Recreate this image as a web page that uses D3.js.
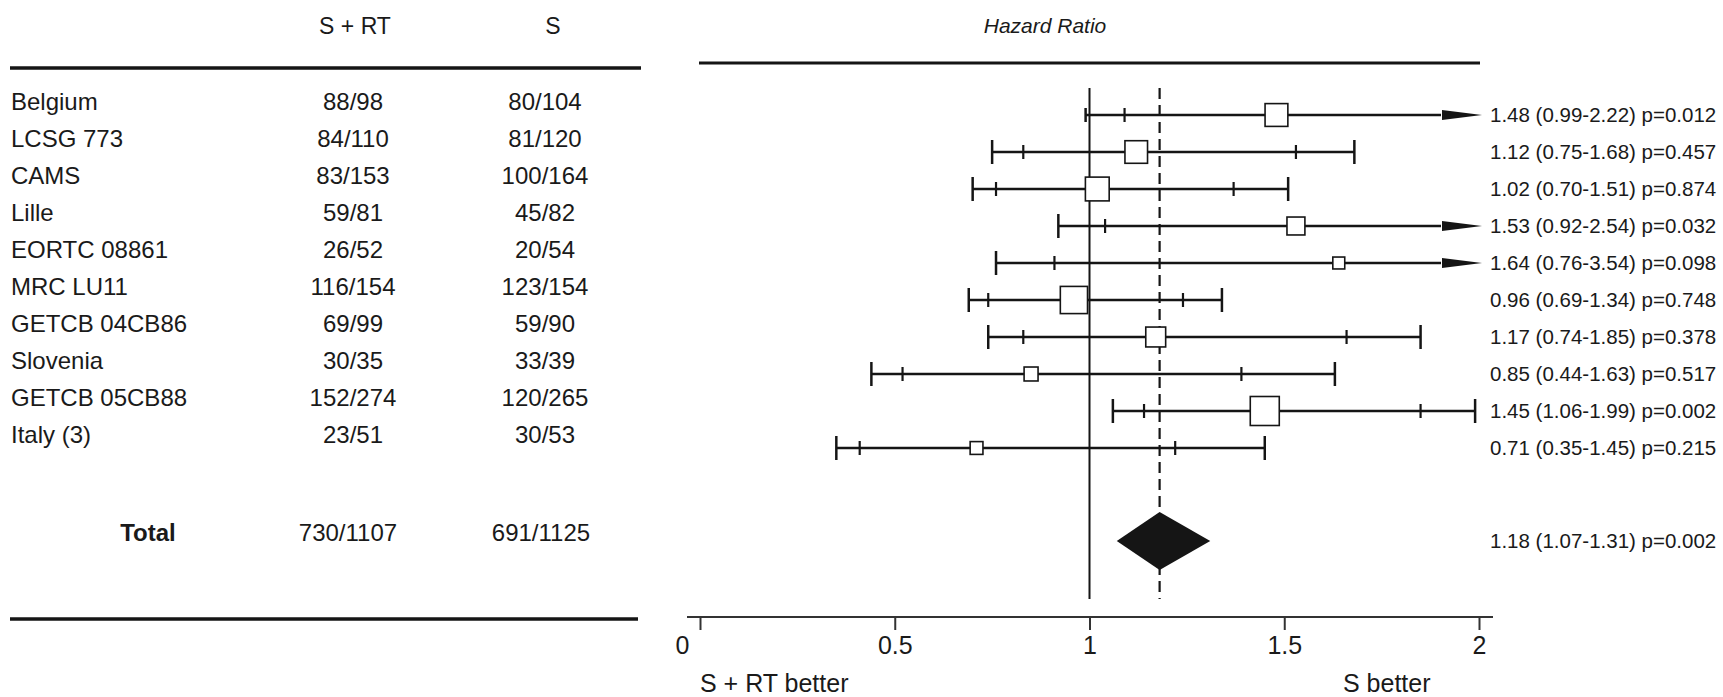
<!DOCTYPE html>
<html>
<head>
<meta charset="utf-8">
<script src="https://cdn.jsdelivr.net/npm/d3@7"></script>
<style>
  body { margin: 0; background: #fff; }
  text { font-family: "Liberation Sans", Arial, Helvetica, sans-serif; fill: #1a1a1a; }
</style>
</head>
<body>
<script>
// trial data
var trials = ["Belgium", "LCSG 773", "CAMS", "Lille", "EORTC 08861", "MRC LU11",
              "GETCB 04CB86", "Slovenia", "GETCB 05CB88", "Italy (3)"];
var srtDeaths = [88, 84, 83, 59, 26, 116, 69, 30, 152, 23];
var srtTotal  = [98, 110, 153, 81, 52, 154, 99, 35, 274, 51];
var sDeaths   = [80, 81, 100, 45, 20, 123, 59, 33, 120, 30];
var sTotal    = [104, 120, 164, 82, 54, 154, 90, 39, 265, 53];

// hazard ratios, outer (labelled) interval and inner tick marks
var hr    = [1.48, 1.12, 1.02, 1.53, 1.64, 0.96, 1.17, 0.85, 1.45, 0.71];
var lo    = [0.99, 0.75, 0.70, 0.92, 0.76, 0.69, 0.74, 0.44, 1.06, 0.35];
var hi    = [2.22, 1.68, 1.51, 2.54, 3.54, 1.34, 1.85, 1.63, 1.99, 1.45];
var loIn  = [1.09, 0.83, 0.76, 1.04, 0.91, 0.74, 0.83, 0.52, 1.14, 0.41];
var hiIn  = [null, 1.53, 1.37, null, null, 1.24, 1.66, 1.39, 1.85, 1.22];
var pvals = ["0.012", "0.457", "0.874", "0.032", "0.098", "0.748", "0.378", "0.517", "0.002", "0.215"];

var totalHR = 1.18, totalLo = 1.07, totalHi = 1.31, totalP = "0.002";
var axisTicks = [0, 0.5, 1, 1.5, 2];

var width = 1723, height = 697;

var svg = d3.select("body").append("svg")
    .attr("width", width)
    .attr("height", height);

// scales
var x = d3.scaleLinear().domain([0, 2]).range([700, 1479]);
var y = d3.scalePoint().domain(trials).range([115, 448]);
var boxSize = d3.scaleSqrt().domain([0, 272]).range([0, 29]);
var f2 = d3.format(".2f");

var ink = "#151515";

// ----- left table -----
svg.append("text").attr("x", 355).attr("y", 26).attr("dy", "0.35em")
    .attr("text-anchor", "middle").style("font-size", "23px").text("S + RT");
svg.append("text").attr("x", 553).attr("y", 26).attr("dy", "0.35em")
    .attr("text-anchor", "middle").style("font-size", "23px").text("S");

svg.append("line").attr("x1", 10).attr("x2", 641).attr("y1", 68).attr("y2", 68)
    .attr("stroke", ink).attr("stroke-width", 3.5);
svg.append("line").attr("x1", 10).attr("x2", 638).attr("y1", 619).attr("y2", 619)
    .attr("stroke", ink).attr("stroke-width", 3.5);

var rows = svg.append("g").selectAll("g")
    .data(trials)
  .enter().append("g")
    .attr("transform", function(d) { return "translate(0," + (y(d) - 13) + ")"; });

rows.append("text").attr("x", 11).attr("dy", "0.35em")
    .style("font-size", "24px").text(function(d) { return d; });
rows.append("text").attr("x", 353).attr("dy", "0.35em").attr("text-anchor", "middle")
    .style("font-size", "24px")
    .text(function(d, i) { return srtDeaths[i] + "/" + srtTotal[i]; });
rows.append("text").attr("x", 545).attr("dy", "0.35em").attr("text-anchor", "middle")
    .style("font-size", "24px")
    .text(function(d, i) { return sDeaths[i] + "/" + sTotal[i]; });

var totalY = 533;
svg.append("text").attr("x", 148).attr("y", totalY).attr("dy", "0.35em")
    .attr("text-anchor", "middle").style("font-size", "24px").style("font-weight", "bold")
    .text("Total");
svg.append("text").attr("x", 348).attr("y", totalY).attr("dy", "0.35em")
    .attr("text-anchor", "middle").style("font-size", "24px")
    .text(d3.sum(srtDeaths) + "/" + d3.sum(srtTotal));
svg.append("text").attr("x", 541).attr("y", totalY).attr("dy", "0.35em")
    .attr("text-anchor", "middle").style("font-size", "24px")
    .text(d3.sum(sDeaths) + "/" + d3.sum(sTotal));

// ----- forest plot -----
svg.append("text").attr("x", 1045).attr("y", 26).attr("dy", "0.35em")
    .attr("text-anchor", "middle").style("font-size", "21px").style("font-style", "italic")
    .text("Hazard Ratio");
svg.append("line").attr("x1", 699).attr("x2", 1480).attr("y1", 63).attr("y2", 63)
    .attr("stroke", ink).attr("stroke-width", 3);

var diamondY = 541;

// reference lines
svg.append("line").attr("x1", x(1)).attr("x2", x(1)).attr("y1", 88).attr("y2", 599)
    .attr("stroke", ink).attr("stroke-width", 2);
svg.append("line").attr("x1", x(totalHR)).attr("x2", x(totalHR)).attr("y1", 88).attr("y2", 599)
    .attr("stroke", ink).attr("stroke-width", 2.2).attr("stroke-dasharray", "11,6");

var xmax = x.domain()[1];
var arrowLen = 40, arrowHalf = 5;

var ci = svg.append("g").selectAll("g")
    .data(trials)
  .enter().append("g")
    .attr("transform", function(d) { return "translate(0," + y(d) + ")"; });

// interval line
ci.append("line")
    .attr("x1", function(d, i) { return x(lo[i]); })
    .attr("x2", function(d, i) { return hi[i] > xmax ? x(xmax) - arrowLen + 2 : x(hi[i]); })
    .attr("stroke", ink).attr("stroke-width", 2.5);

// outer end caps
ci.append("line")
    .attr("x1", function(d, i) { return x(lo[i]); })
    .attr("x2", function(d, i) { return x(lo[i]); })
    .attr("y1", function(d, i) { return i === 0 ? -7 : -12; })
    .attr("y2", function(d, i) { return i === 0 ? 7 : 12; })
    .attr("stroke", ink).attr("stroke-width", 2.5);
ci.filter(function(d, i) { return hi[i] <= xmax; }).append("line")
    .attr("x1", function(d) { return x(hi[trials.indexOf(d)]); })
    .attr("x2", function(d) { return x(hi[trials.indexOf(d)]); })
    .attr("y1", -12).attr("y2", 12)
    .attr("stroke", ink).attr("stroke-width", 2.5);

// inner tick marks
ci.append("line")
    .attr("x1", function(d, i) { return x(loIn[i]); })
    .attr("x2", function(d, i) { return x(loIn[i]); })
    .attr("y1", -7).attr("y2", 7)
    .attr("stroke", ink).attr("stroke-width", 2.2);
ci.filter(function(d, i) { return hiIn[i] != null; }).append("line")
    .attr("x1", function(d) { return x(hiIn[trials.indexOf(d)]); })
    .attr("x2", function(d) { return x(hiIn[trials.indexOf(d)]); })
    .attr("y1", -7).attr("y2", 7)
    .attr("stroke", ink).attr("stroke-width", 2.2);

// arrows for intervals beyond the axis
ci.filter(function(d, i) { return hi[i] > xmax; }).append("path")
    .attr("d", function() {
      var tip = x(xmax) + 3;
      return "M" + (tip - arrowLen) + "," + (-arrowHalf) + "L" + tip + ",0L" +
             (tip - arrowLen) + "," + arrowHalf + "Z";
    })
    .attr("fill", ink);

// boxes sized by number of deaths
ci.append("rect")
    .attr("x", function(d, i) { return x(hr[i]) - boxSize(srtDeaths[i] + sDeaths[i]) / 2; })
    .attr("y", function(d, i) { return -boxSize(srtDeaths[i] + sDeaths[i]) / 2; })
    .attr("width", function(d, i) { return boxSize(srtDeaths[i] + sDeaths[i]); })
    .attr("height", function(d, i) { return boxSize(srtDeaths[i] + sDeaths[i]); })
    .attr("fill", "#fff").attr("stroke", ink).attr("stroke-width", 1.6);

// right labels
ci.append("text").attr("x", 1490).attr("dy", "0.35em")
    .style("font-size", "20.5px")
    .text(function(d, i) {
      return f2(hr[i]) + " (" + f2(lo[i]) + "-" + f2(hi[i]) + ") p=" + pvals[i];
    });

// pooled diamond
svg.append("path")
    .attr("d", "M" + x(totalLo) + "," + diamondY +
               "L" + x(totalHR) + "," + (diamondY - 29) +
               "L" + x(totalHi) + "," + diamondY +
               "L" + x(totalHR) + "," + (diamondY + 29) + "Z")
    .attr("fill", ink);
svg.append("text").attr("x", 1490).attr("y", diamondY).attr("dy", "0.35em")
    .style("font-size", "20.5px")
    .text(f2(totalHR) + " (" + f2(totalLo) + "-" + f2(totalHi) + ") p=" + totalP);

// x axis
var axisY = 617;
var axis = svg.append("g")
    .attr("transform", "translate(0," + axisY + ")")
    .call(d3.axisBottom(x).tickValues(axisTicks).tickFormat(d3.format("~g"))
      .tickSize(13).tickSizeOuter(0).tickPadding(6));
axis.select(".domain").attr("stroke", "#333").attr("stroke-width", 2)
    .attr("d", "M" + (x(0) - 13) + ",0H" + (x(2) + 14));
axis.selectAll(".tick line").attr("stroke", "#333").attr("stroke-width", 2);
axis.selectAll(".tick text").style("font-size", "25px").attr("fill", "#1a1a1a")
    .style("font-family", "'Liberation Sans', Arial, sans-serif");
// the zero label sits a little left of its tick in the original
axis.selectAll(".tick text").filter(function(d) { return d === 0; }).attr("dx", -18);

svg.append("text").attr("x", 700).attr("y", 683).attr("dy", "0.35em")
    .style("font-size", "25px").text("S + RT better");
svg.append("text").attr("x", 1343).attr("y", 683).attr("dy", "0.35em")
    .style("font-size", "25px").text("S better");
</script>
</body>
</html>
